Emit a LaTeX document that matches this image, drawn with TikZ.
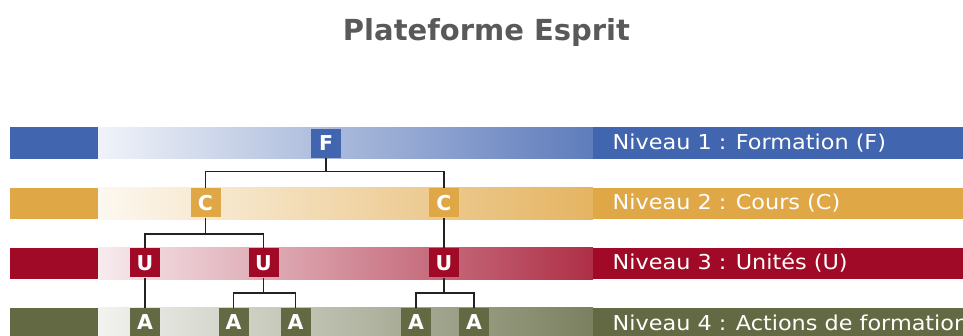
\documentclass[tikz,border=0pt]{standalone}
\usepackage{fontspec}
\setmainfont{DejaVu Sans}
\newfontfamily\labfont[FakeStretch=1.09]{DejaVu Sans}
\definecolor{cF}{RGB}{66,101,176}
\definecolor{cC}{RGB}{224,167,70}
\definecolor{cU}{RGB}{160,10,38}
\definecolor{cA}{RGB}{99,106,67}
\definecolor{titlegray}{RGB}{89,89,89}
\definecolor{linec}{RGB}{34,34,34}
\begin{document}
\begin{tikzpicture}[x=1pt,y=-1pt,
  lvbox/.style={minimum width=30pt,minimum height=29pt,inner sep=0pt,text=white,
    font=\fontsize{20.5}{20.5}\selectfont\bfseries},
  lvlabel/.style={anchor=base west,text=white,inner sep=0pt,
    font=\labfont\fontsize{20.5}{22}\selectfont},
  conn/.style={draw=linec,line width=1.6pt}]
\useasboundingbox (0,0) rectangle (963,336);
\clip (0,0) rectangle (963,336);
% title
\node[anchor=base,text=titlegray,inner sep=0pt,font=\fontsize{29}{30}\selectfont\bfseries] (title) at (486.5,41) {Plateforme Esprit};
% bars
\foreach \c/\t/\b in {cF/127.5/159, cC/188/219.5, cU/248/279.5, cA/308/340}{
  \fill[\c] (10,\t) rectangle (98,\b);
  \shade[left color=\c!8, right color=\c!85] (98,\t) rectangle (593,\b);
  \fill[\c] (593,\t) rectangle (963,\b);
}
% labels
\node[lvlabel] (L1) at (612.5,149.5) {Niveau 1 : Formation (F)};
\node[lvlabel] (L2) at (612.5,210) {Niveau 2 : Cours (C)};
\node[lvlabel] (L3) at (612.5,270) {Niveau 3 : Unités (U)};
\node[lvlabel] (L4) at (612.5,330.5) {Niveau 4 : Actions de formation};
% boxes
\node[lvbox,fill=cF] (F) at (326,143.5) {F};
\node[lvbox,fill=cC] (C1) at (205.5,203) {C};
\node[lvbox,fill=cC] (C2) at (444,203) {C};
\node[lvbox,fill=cU] (U1) at (145,263) {U};
\node[lvbox,fill=cU] (U2) at (263.5,263) {U};
\node[lvbox,fill=cU] (U3) at (444,263) {U};
\node[lvbox,fill=cA] (A1) at (145,322.5) {A};
\node[lvbox,fill=cA] (A2) at (233.5,322.5) {A};
\node[lvbox,fill=cA] (A3) at (295.5,322.5) {A};
\node[lvbox,fill=cA] (A4) at (416,322.5) {A};
\node[lvbox,fill=cA] (A5) at (474,322.5) {A};
% connectors
\draw[conn] (F.south) -- ++(0,13.5) coordinate (jF) -| (C1.north);
\draw[conn] (jF) -| (C2.north);
\draw[conn] (C1.south) -- ++(0,16.5) coordinate (jC) -| (U1.north);
\draw[conn] (jC) -| (U2.north);
\draw[conn] (C2.south) -- (U3.north);
\draw[conn] (U1.south) -- (A1.north);
\draw[conn] (U2.south) -- ++(0,15.5) coordinate (jU2) -| (A2.north);
\draw[conn] (jU2) -| (A3.north);
\draw[conn] (U3.south) -- ++(0,15.5) coordinate (jU3) -| (A4.north);
\draw[conn] (jU3) -| (A5.north);
\end{tikzpicture}
\end{document}
